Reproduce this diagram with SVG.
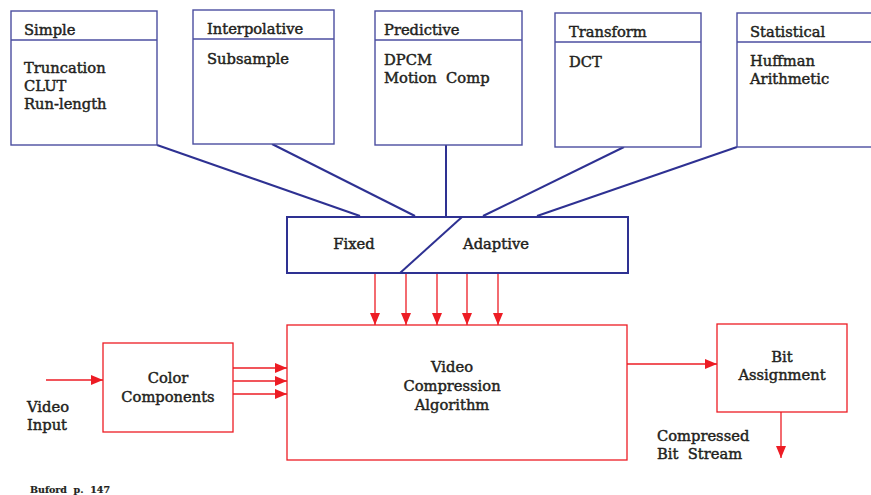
<svg xmlns="http://www.w3.org/2000/svg" width="871" height="495" viewBox="0 0 871 495">
  <defs>
    <style>
      text { font-family: "DejaVu Serif", "Liberation Serif", serif; font-size: 14.7px; fill: #231f20; stroke: #231f20; stroke-width: 0.45; }
      .mid { text-anchor: middle; }
      .cat { fill: #ffffff; stroke: #4b4ea0; stroke-width: 1.4; }
      .blue { fill: none; stroke: #2e3192; stroke-width: 2; }
      .red { fill: none; stroke: #ed1c24; stroke-width: 1.3; }
      .redbox { fill: #ffffff; stroke: #ed1c24; stroke-width: 1.3; }
      .note { font-size: 9.5px; font-weight: bold; stroke-width: 0.2; }
    </style>
    <marker id="ah" viewBox="0 0 12 10" refX="12" refY="5" markerWidth="12" markerHeight="10" markerUnits="userSpaceOnUse" orient="auto">
      <path d="M0,0 L12,5 L0,10 z" fill="#ed1c24"/>
    </marker>
  </defs>

  <!-- connectors -->
  <g id="connectors">
    <line class="blue" x1="157" y1="145" x2="360" y2="216"/>
    <line class="blue" x1="272" y1="144" x2="415" y2="216"/>
    <line class="blue" x1="446" y1="145" x2="446" y2="216"/>
    <line class="blue" x1="624" y1="147" x2="483" y2="216"/>
    <line class="blue" x1="737" y1="147" x2="537" y2="216"/>

    <line class="red" x1="375" y1="273" x2="375" y2="325" marker-end="url(#ah)"/>
    <line class="red" x1="406" y1="273" x2="406" y2="325" marker-end="url(#ah)"/>
    <line class="red" x1="437" y1="273" x2="437" y2="325" marker-end="url(#ah)"/>
    <line class="red" x1="467" y1="273" x2="467" y2="325" marker-end="url(#ah)"/>
    <line class="red" x1="498" y1="273" x2="498" y2="325" marker-end="url(#ah)"/>

    <line class="red" x1="46" y1="380" x2="103" y2="380" marker-end="url(#ah)"/>
    <line class="red" x1="233" y1="368" x2="287" y2="368" marker-end="url(#ah)"/>
    <line class="red" x1="233" y1="381" x2="287" y2="381" marker-end="url(#ah)"/>
    <line class="red" x1="233" y1="394" x2="287" y2="394" marker-end="url(#ah)"/>

    <line class="red" x1="627" y1="364" x2="717" y2="364" marker-end="url(#ah)"/>
    <line class="red" x1="781" y1="412" x2="781" y2="458" marker-end="url(#ah)"/>
  </g>

  <!-- category boxes -->
  <g id="simple">
    <rect class="cat" x="11" y="11" width="146" height="134"/>
    <line class="cat" x1="11" y1="40" x2="157" y2="40"/>
    <text x="24" y="35">Simple</text>
    <text x="24" y="73">Truncation</text>
    <text x="24" y="91">CLUT</text>
    <text x="24" y="109">Run-length</text>
  </g>
  <g id="interpolative">
    <rect class="cat" x="193" y="10" width="141" height="134"/>
    <line class="cat" x1="193" y1="39" x2="334" y2="39"/>
    <text x="207" y="34">Interpolative</text>
    <text x="207" y="64">Subsample</text>
  </g>
  <g id="predictive">
    <rect class="cat" x="375" y="11" width="147" height="134"/>
    <line class="cat" x1="375" y1="40" x2="522" y2="40"/>
    <text x="384" y="35">Predictive</text>
    <text x="384" y="65">DPCM</text>
    <text x="384" y="83" xml:space="preserve">Motion  Comp</text>
  </g>
  <g id="transform">
    <rect class="cat" x="555" y="13" width="146" height="134"/>
    <line class="cat" x1="555" y1="42" x2="701" y2="42"/>
    <text x="569" y="37">Transform</text>
    <text x="569" y="67">DCT</text>
  </g>
  <g id="statistical">
    <rect class="cat" x="737" y="13" width="140" height="134"/>
    <line class="cat" x1="737" y1="42" x2="877" y2="42"/>
    <text x="750" y="37">Statistical</text>
    <text x="750" y="66">Huffman</text>
    <text x="750" y="84">Arithmetic</text>
  </g>

  <!-- fixed / adaptive selector -->
  <g id="mode">
    <rect x="287" y="217" width="341" height="56" fill="#ffffff" stroke="#2e3192" stroke-width="2"/>
    <line class="blue" x1="462" y1="217" x2="400" y2="273"/>
    <text class="mid" x="354" y="249">Fixed</text>
    <text class="mid" x="496" y="249">Adaptive</text>
  </g>

  <!-- processing chain -->
  <g id="color-components">
    <rect class="redbox" x="103" y="343" width="130" height="89"/>
    <text class="mid" x="168" y="383">Color</text>
    <text class="mid" x="168" y="402">Components</text>
  </g>
  <g id="algorithm">
    <rect class="redbox" x="287" y="325" width="340" height="135"/>
    <text class="mid" x="452" y="372">Video</text>
    <text class="mid" x="452" y="391">Compression</text>
    <text class="mid" x="452" y="410">Algorithm</text>
  </g>
  <g id="bit-assignment">
    <rect class="redbox" x="717" y="324" width="130" height="88"/>
    <text class="mid" x="782" y="362">Bit</text>
    <text class="mid" x="782" y="380">Assignment</text>
  </g>

  <!-- free labels -->
  <g id="labels">
    <text x="27" y="412">Video</text>
    <text x="27" y="430">Input</text>
    <text x="657" y="441">Compressed</text>
    <text x="657" y="459" xml:space="preserve">Bit  Stream</text>
    <text class="note" x="30" y="493" xml:space="preserve">Buford  p.  147</text>
  </g>
</svg>
